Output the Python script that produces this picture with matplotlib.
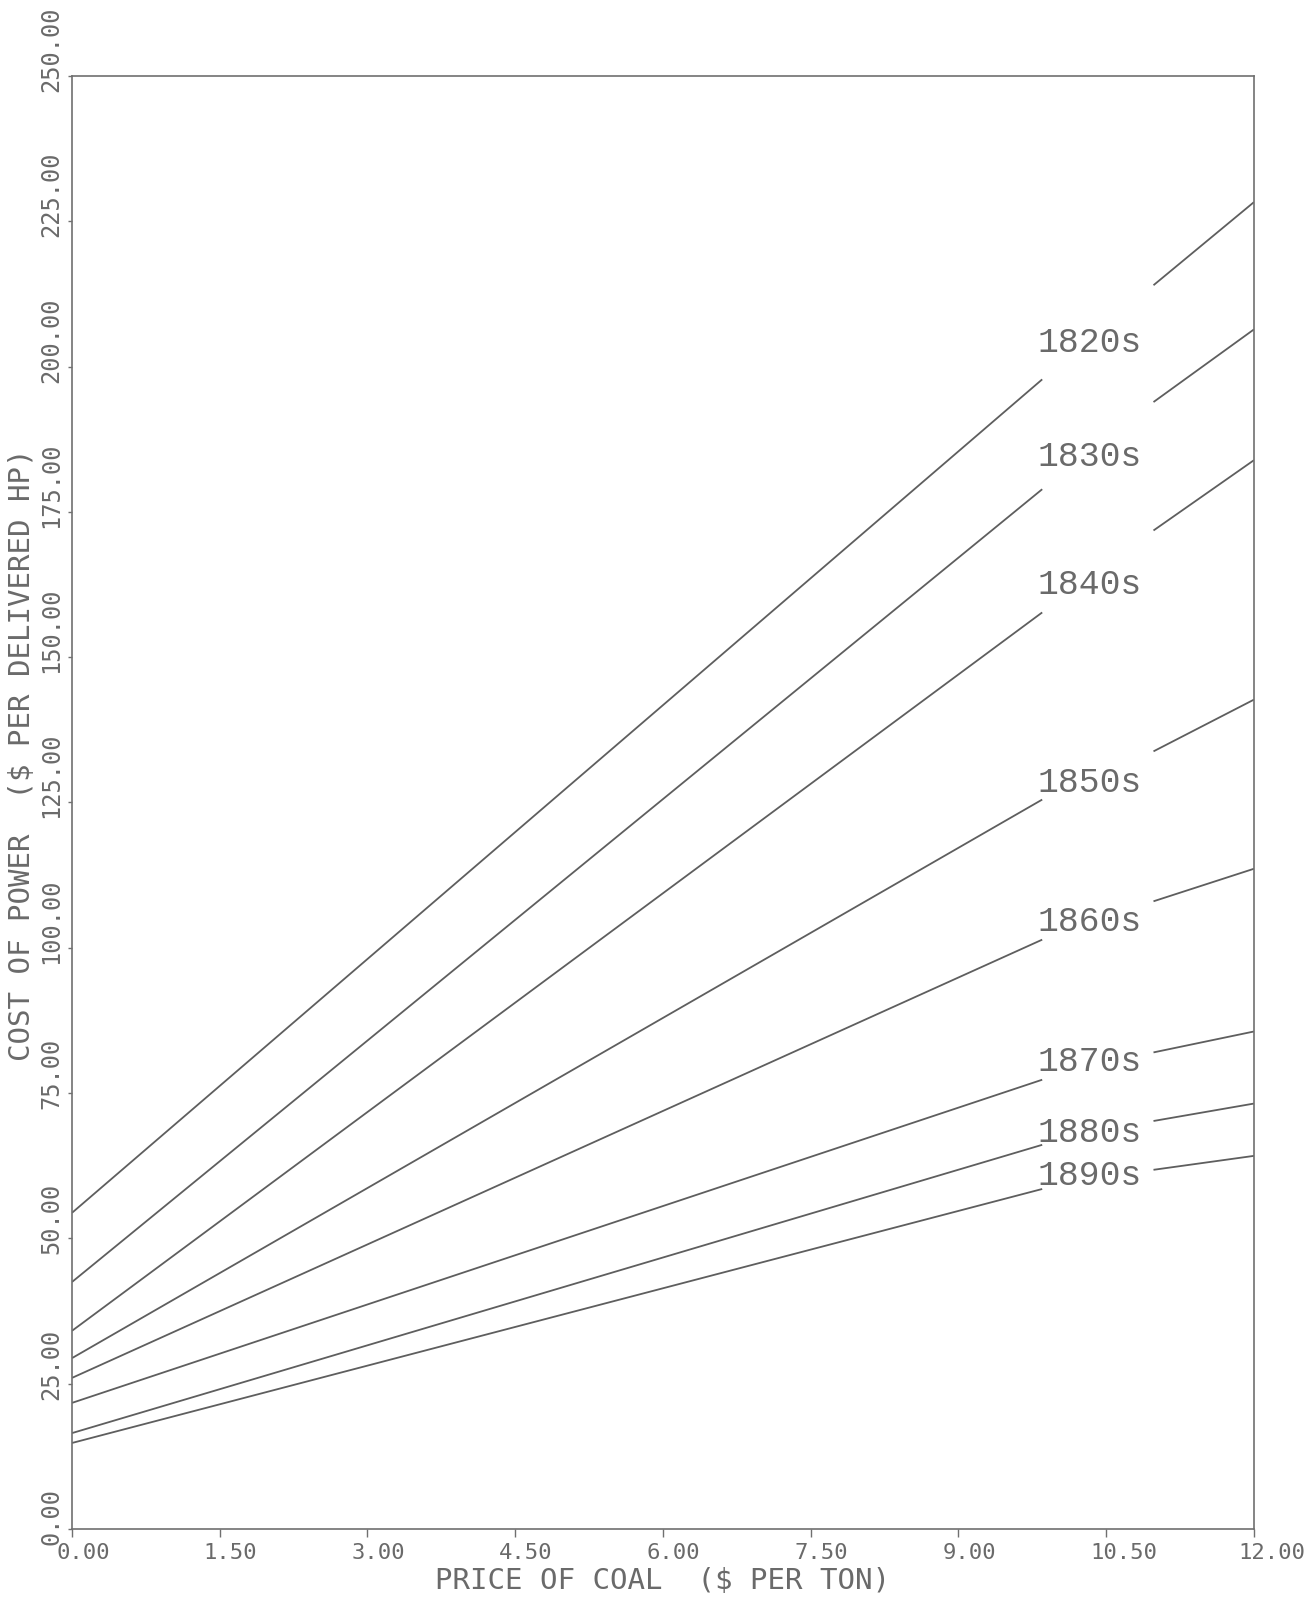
import matplotlib.pyplot as plt
from matplotlib.transforms import ScaledTranslation

# values
decades = ['1820s', '1830s', '1840s', '1850s', '1860s', '1870s', '1880s', '1890s']
price_left = [0.0, 9.85]     # left piece of each line ($ per ton)
price_right = [10.98, 12.0]  # piece to the right of the labels
cost_left = [
    [54.4, 197.8],
    [42.5, 178.9],
    [34.1, 157.7],
    [29.4, 125.5],
    [26.0, 101.4],
    [21.7, 77.3],
    [16.5, 66.1],
    [14.8, 58.5],
]
cost_right = [
    [214.0, 228.3],
    [193.9, 206.4],
    [171.8, 183.9],
    [133.8, 142.7],
    [108.0, 113.6],
    [82.0, 85.6],
    [70.2, 73.2],
    [61.8, 64.2],
]
label_cost = [204.2, 184.6, 162.5, 128.4, 104.5, 80.4, 68.2, 60.9]
label_price = 9.80

xticks = [0, 1.5, 3, 4.5, 6, 7.5, 9, 10.5, 12]
xtick_labels = ['0.00', '1.50', '3.00', '4.50', '6.00', '7.50', '9.00', '10.50', '12.00']
yticks = [0, 25, 50, 75, 100, 125, 150, 175, 200, 225, 250]
ytick_labels = ['0.00', '25.00', '50.00', '75.00', '100.00', '125.00',
                '150.00', '175.00', '200.00', '225.00', '250.00']

ink = '#5e5e5e'
text_ink = '#6a6a6a'

fig = plt.figure(figsize=(13.13, 15.99), dpi=100)
ax = fig.add_axes([0.05484, 0.04378, 0.9002, 0.9087])

for i, dec in enumerate(decades):
    ax.plot(price_left, cost_left[i], color=ink, lw=1.3, solid_capstyle='butt')
    ax.plot(price_right, cost_right[i], color=ink, lw=1.3, solid_capstyle='butt')
    ax.text(label_price, label_cost[i], dec, family='Liberation Mono', fontsize=25,
            color=text_ink, ha='left', va='center')

ax.set_xlim(0, 12)
ax.set_ylim(0, 250)

for s in ax.spines.values():
    s.set_color('#707070')
    s.set_linewidth(1.2)

# axis ticks and labels
ax.set_xticks(xticks)
ax.set_xticklabels(xtick_labels, family='DejaVu Sans Mono', fontsize=16,
                   color=text_ink, ha='left')
ax.set_yticks(yticks)
ax.set_yticklabels(ytick_labels, family='DejaVu Sans Mono', fontsize=17,
                   color=text_ink, rotation=90, rotation_mode='anchor',
                   ha='left', va='center')
ax.tick_params(axis='x', direction='out', length=6, width=1, color='#707070', pad=4)
ax.tick_params(axis='y', direction='out', length=3, width=1, color='#707070', pad=12)

dx = ScaledTranslation(-16 / 100, 0, fig.dpi_scale_trans)
for lab in ax.get_xticklabels():
    lab.set_transform(lab.get_transform() + dx)
dy = ScaledTranslation(0, -16 / 100, fig.dpi_scale_trans)
for lab in ax.get_yticklabels():
    lab.set_transform(lab.get_transform() + dy)

ax.set_xlabel('PRICE OF COAL  ($ PER TON)', family='DejaVu Sans Mono',
              fontsize=21, color=text_ink, va='center')
ax.xaxis.set_label_coords(0.5, -0.036)
ax.set_ylabel('COST OF POWER  ($ PER DELIVERED HP)', family='DejaVu Sans Mono',
              fontsize=21, color=text_ink, va='center')
ax.yaxis.set_label_coords(-0.042, 0.533)

# title, cut off by the top edge of the scan
fig.text(0.484, 1 - 5 / 1599, 'WITH THE PRICE OF COAL', family='DejaVu Sans Mono',
         fontsize=23, color='#8a8a8a', ha='center', va='bottom')

fig.savefig('out.png', dpi=100)
